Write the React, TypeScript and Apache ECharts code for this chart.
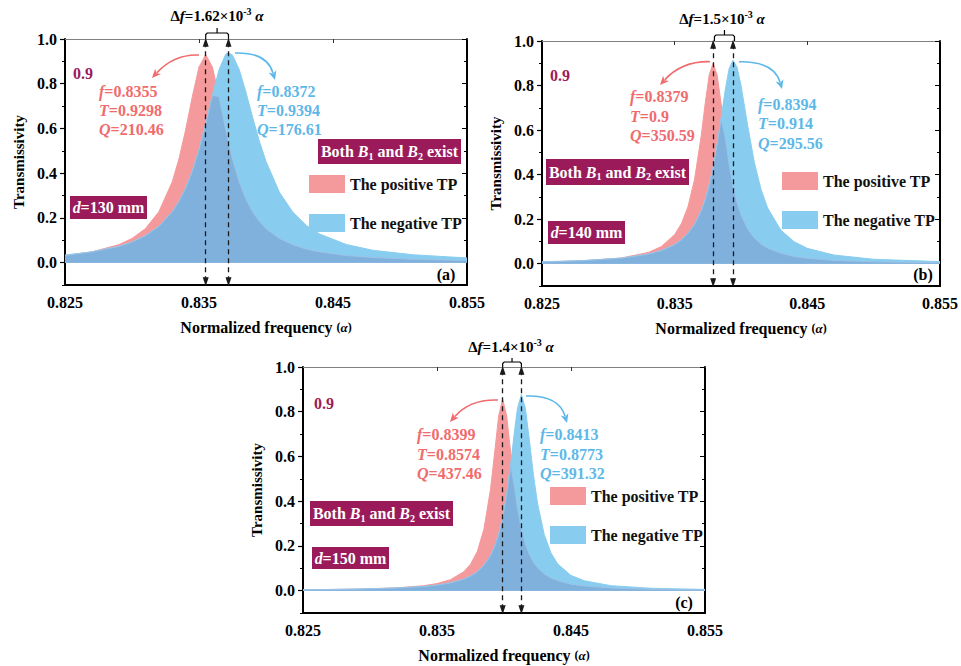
import React, { useEffect, useRef } from "react";
import * as echarts from "echarts";

// ---------------- data ----------------
const xTicks = [0.825, 0.835, 0.845, 0.855];
const yTicks = [0, 0.2, 0.4, 0.6, 0.8, 1.0];

// panel (a) d = 130 mm
const freqA = [0.825, 0.827, 0.829, 0.83, 0.831, 0.832, 0.833, 0.8335, 0.834, 0.8345, 0.835, 0.8355, 0.836, 0.8365, 0.837, 0.8372, 0.8375, 0.838, 0.8385, 0.839, 0.8395, 0.84, 0.841, 0.842, 0.843, 0.844, 0.846, 0.848, 0.851, 0.855];
const posA = [0.032, 0.048, 0.08, 0.108, 0.152, 0.227, 0.361, 0.463, 0.593, 0.742, 0.875, 0.93, 0.875, 0.742, 0.593, 0.538, 0.463, 0.361, 0.284, 0.227, 0.185, 0.152, 0.108, 0.08, 0.061, 0.048, 0.032, 0.023, 0.015, 0.0096];
const negA = [0.034, 0.048, 0.072, 0.092, 0.12, 0.162, 0.227, 0.273, 0.333, 0.409, 0.505, 0.62, 0.748, 0.864, 0.933, 0.939, 0.928, 0.864, 0.763, 0.65, 0.544, 0.453, 0.315, 0.226, 0.167, 0.128, 0.081, 0.055, 0.035, 0.021];

// panel (b) d = 140 mm
const freqB = [0.825, 0.828, 0.831, 0.833, 0.834, 0.835, 0.8355, 0.836, 0.8365, 0.837, 0.8373, 0.8376, 0.8379, 0.8382, 0.8385, 0.8388, 0.8391, 0.8394, 0.8397, 0.84, 0.8405, 0.841, 0.8415, 0.842, 0.843, 0.844, 0.845, 0.847, 0.85, 0.855];
const posB = [0.0077, 0.0129, 0.026, 0.0505, 0.077, 0.131, 0.179, 0.255, 0.379, 0.574, 0.719, 0.847, 0.9, 0.847, 0.719, 0.574, 0.448, 0.349, 0.275, 0.22, 0.157, 0.116, 0.089, 0.0705, 0.047, 0.033, 0.025, 0.015, 0.0087, 0.0044];
const negB = [0.0088, 0.014, 0.025, 0.043, 0.059, 0.086, 0.107, 0.136, 0.177, 0.237, 0.287, 0.351, 0.432, 0.533, 0.652, 0.776, 0.875, 0.914, 0.883, 0.801, 0.621, 0.457, 0.336, 0.251, 0.151, 0.099, 0.069, 0.039, 0.02, 0.0095];

// panel (c) d = 150 mm
const freqC = [0.825, 0.829, 0.832, 0.834, 0.835, 0.836, 0.837, 0.8375, 0.838, 0.8385, 0.839, 0.8393, 0.8396, 0.8399, 0.8402, 0.8405, 0.8408, 0.841, 0.8413, 0.8416, 0.8419, 0.8422, 0.8425, 0.843, 0.8435, 0.844, 0.845, 0.846, 0.848, 0.851, 0.855];
const posC = [0.0035, 0.0066, 0.0125, 0.0221, 0.0317, 0.049, 0.0847, 0.118, 0.174, 0.274, 0.456, 0.616, 0.781, 0.857, 0.781, 0.616, 0.456, 0.371, 0.274, 0.207, 0.161, 0.127, 0.103, 0.075, 0.057, 0.045, 0.029, 0.021, 0.012, 0.0064, 0.0035];
const negC = [0.0038, 0.0067, 0.0116, 0.0186, 0.0248, 0.0347, 0.0516, 0.065, 0.084, 0.113, 0.157, 0.197, 0.251, 0.325, 0.429, 0.565, 0.721, 0.814, 0.877, 0.814, 0.669, 0.516, 0.391, 0.251, 0.169, 0.12, 0.068, 0.044, 0.022, 0.0106, 0.0054];

const peakPosF = [0.8355, 0.8379, 0.8399];
const peakNegF = [0.8372, 0.8394, 0.8413];
const peakPosT = ["0.9298", "0.9", "0.8574"];
const peakNegT = ["0.9394", "0.914", "0.8773"];
const peakPosQ = ["210.46", "350.59", "437.46"];
const peakNegQ = ["176.61", "295.56", "391.32"];
const deltaF = ["1.62", "1.5", "1.4"];
const thickness = ["130", "140", "150"];
const panelTags = ["(a)", "(b)", "(c)"];
const seriesNames = ["The positive TP", "The negative TP"];

const panels = [
  { freq: freqA, pos: posA, neg: negA },
  { freq: freqB, pos: posB, neg: negB },
  { freq: freqC, pos: posC, neg: negC },
];

// ---------------- layout / style ----------------
const FONT = '"Liberation Serif", "Times New Roman", serif';
const RED_FILL = "#f59a9c";
const BLUE_FILL = "#88cdef";
const OVER_FILL = "#80b1dd";
const RED_TXT = "#f06b6d";
const BLUE_TXT = "#5db8e8";
const PURPLE = "#9b1b5a";
const X_MIN = 0.825, X_MAX = 0.855, Y_MIN = -0.1, Y_MAX = 1.0;

const grids = [
  { left: 65, top: 39, width: 402, height: 246 },
  { left: 542, top: 41, width: 401, height: 245 },
  { left: 303, top: 367, width: 402, height: 246 },
];

const layouts = [
  { delta: [217, 16], bracket: [33, 39, 28], nine: [73, 73], red: [99, 82], blue: [257, 82], lh: 19,
    both: [318, 139, 143, 25], d: [70, 196, 77, 23], tag: [446, 274],
    redArrow: [[199, 55], [174, 54], [152, 78]], blueArrow: [[235, 53], [267, 52], [275, 80]], legend: [309, 175] },
  { delta: [722, 19], bracket: [35, 41, 30], nine: [550, 75], red: [630, 87], blue: [758, 94.5], lh: 19.5,
    both: [546, 159, 143, 26], d: [548, 221, 77, 23], tag: [923, 274],
    redArrow: [[710, 61.7], [682, 61], [660, 85]], blueArrow: [[739, 61.7], [774, 61], [782, 89]], legend: [782, 172] },
  { delta: [511, 347], bracket: [362, 367, 358], nine: [314, 403], red: [417, 425], blue: [540, 425], lh: 19.5,
    both: [310, 501, 143, 25], d: [312, 547, 77, 22], tag: [684, 602],
    redArrow: [[498, 400], [470, 399], [450, 422]], blueArrow: [[526, 396], [559, 395], [567, 423]], legend: [550, 487] },
];

function toPx(gi: number, f: number, t: number) {
  const g = grids[gi];
  return [g.left + ((f - X_MIN) / (X_MAX - X_MIN)) * g.width, g.top + ((Y_MAX - t) / (Y_MAX - Y_MIN)) * g.height];
}

const tok = (size: number, color: string, italic = false, extra: any = {}) => ({
  fontFamily: FONT, fontSize: size, fontWeight: "bold", fontStyle: italic ? "italic" : "normal",
  fill: color, color, ...extra,
});

function curvedArrow(pts: number[][], color: string) {
  const [s, c, e] = pts;
  const dx = e[0] - c[0], dy = e[1] - c[1];
  const len = Math.hypot(dx, dy) || 1;
  const ux = dx / len, uy = dy / len;
  const head = 9, half = 4;
  const bx = e[0] - ux * head, by = e[1] - uy * head;
  return [
    {
      type: "bezierCurve", silent: true,
      shape: { x1: s[0], y1: s[1], cpx1: c[0], cpy1: c[1], x2: bx + ux * 2, y2: by + uy * 2 },
      style: { stroke: color, lineWidth: 1.6, fill: null },
    },
    {
      type: "polygon", silent: true,
      shape: { points: [[e[0], e[1]], [bx - uy * half, by + ux * half], [bx + ux * 2.5, by + uy * 2.5], [bx + uy * half, by - ux * half]] },
      style: { fill: color },
    },
  ];
}

function buildOption() {
  const xAxis: any[] = [];
  const yAxis: any[] = [];
  const series: any[] = [];
  const legend: any[] = [];
  const graphic: any[] = [];
  const labelFont = { fontFamily: FONT, fontWeight: "bold", fontSize: 16, color: "#000" };

  grids.forEach((g, p) => {
    xAxis.push({
      gridIndex: p, type: "value", min: X_MIN, max: X_MAX, position: "bottom",
      axisLine: { show: true, onZero: false, lineStyle: { color: "#000", width: 2 } },
      axisTick: { show: false },
      axisLabel: { ...labelFont, margin: 9, customValues: xTicks, formatter: (v: number) => v.toFixed(3) },
      splitLine: { show: false },
      name: "Normalized frequency {s|(}{a|α}{s|)}", nameLocation: "middle", nameGap: 34,
      nameTextStyle: {
        ...labelFont, fontSize: 16,
        rich: { s: { ...labelFont, fontSize: 12 }, a: { ...labelFont, fontSize: 13, fontStyle: "italic" } },
      },
    });
    xAxis.push({
      gridIndex: p, type: "value", min: X_MIN, max: X_MAX, position: "top",
      axisLine: { show: true, onZero: false, lineStyle: { color: "#808080", width: 1 } },
      axisTick: { show: true, inside: true, length: 4, customValues: [0.835, 0.845], lineStyle: { color: "#333" } },
      axisLabel: { show: false }, splitLine: { show: false },
    });
    yAxis.push({
      gridIndex: p, type: "value", min: Y_MIN, max: Y_MAX, position: "left",
      axisLine: { show: true, onZero: false, lineStyle: { color: "#000", width: 2 } },
      axisTick: { show: true, length: 5, customValues: yTicks, lineStyle: { color: "#000", width: 1.2 } },
      axisLabel: { ...labelFont, margin: 8, customValues: yTicks, formatter: (v: number) => v.toFixed(1) },
      splitLine: { show: false },
      name: "Transmissivity", nameLocation: "middle", nameGap: 39, nameRotate: 90,
      nameTextStyle: { ...labelFont, fontSize: 15 },
    });
    yAxis.push({
      gridIndex: p, type: "value", min: Y_MIN, max: Y_MAX, interval: 0.1, position: "left",
      axisLine: { show: false }, axisTick: { show: true, length: 3, lineStyle: { color: "#000" } },
      axisLabel: { show: false }, splitLine: { show: false },
    });
    yAxis.push({
      gridIndex: p, type: "value", min: Y_MIN, max: Y_MAX, position: "right",
      axisLine: { show: true, onZero: false, lineStyle: { color: "#000", width: 2 } },
      axisTick: { show: true, inside: true, length: 5, customValues: yTicks, lineStyle: { color: "#000" } },
      axisLabel: { show: false }, splitLine: { show: false },
    });
    yAxis.push({
      gridIndex: p, type: "value", min: Y_MIN, max: Y_MAX, interval: 0.1, position: "right",
      axisLine: { show: false }, axisTick: { show: true, inside: true, length: 3, lineStyle: { color: "#000" } },
      axisLabel: { show: false }, splitLine: { show: false },
    });

    const P = panels[p];
    const L = layouts[p];
    const common = {
      type: "line", xAxisIndex: p * 2, yAxisIndex: p * 4, showSymbol: false, symbol: "none",
      animation: false, clip: true, silent: true,
    };
    series.push({
      ...common, name: seriesNames[0], z: 2,
      data: P.freq.map((f, i) => [f, P.pos[i]]),
      lineStyle: { color: RED_FILL, width: 1 }, itemStyle: { color: RED_FILL },
      areaStyle: { color: RED_FILL, opacity: 1 },
    });
    series.push({
      ...common, name: seriesNames[1], z: 3,
      data: P.freq.map((f, i) => [f, P.neg[i]]),
      lineStyle: { color: BLUE_FILL, width: 1 }, itemStyle: { color: BLUE_FILL },
      areaStyle: { color: BLUE_FILL, opacity: 1 },
    });

    const dashStyle = { type: [5, 4], color: "#1a1a1a", width: 1.3 };
    const mlData: any[] = [];
    [peakPosF[p], peakNegF[p]].forEach((f) => {
      mlData.push([
        { coord: [f, 0.985], symbol: "triangle", symbolSize: [6, 9], lineStyle: dashStyle },
        { coord: [f, -0.085], symbol: "triangle", symbolSize: [6, 9], lineStyle: dashStyle },
      ]);
    });

    series.push({
      ...common, name: "overlap", z: 4,
      data: P.freq.map((f, i) => [f, Math.min(P.pos[i], P.neg[i])]),
      lineStyle: { color: "#9cc3e6", width: 1 }, itemStyle: { color: OVER_FILL },
      areaStyle: { color: OVER_FILL, opacity: 1 },
      markLine: { silent: true, animation: false, label: { show: false }, emphasis: { disabled: true }, data: mlData },
    });

    legend.push({
      left: L.legend[0], top: L.legend[1], orient: "vertical", icon: "rect", padding: 0,
      itemWidth: 36, itemHeight: 18, itemGap: 21, selectedMode: false,
      data: seriesNames, textStyle: { ...labelFont, fontSize: 16, color: "#111" },
    });

    // ---- annotations ----
    graphic.push({
      type: "text", x: L.delta[0], y: L.delta[1], silent: true,
      style: {
        text: `{n|Δ}{i|f}{n|=${deltaF[p]}×10}{p|-3}{n| }{i|α}`,
        textAlign: "center", textVerticalAlign: "middle",
        rich: { n: tok(15, "#000"), i: tok(15, "#000", true), p: tok(10, "#000", false, { padding: [0, 0, 9, 0] }) },
      },
    });
    const x1 = toPx(p, peakPosF[p], 1)[0];
    const x2 = toPx(p, peakNegF[p], 1)[0];
    const [bt, bb, bs] = L.bracket;
    graphic.push({
      type: "polyline", silent: true,
      shape: { points: [[x1, bb], [x1, bt + 1.5], [x1 + 1.5, bt], [x2 - 1.5, bt], [x2, bt + 1.5], [x2, bb]] },
      style: { stroke: "#000", lineWidth: 1.2, fill: null },
    });
    graphic.push({
      type: "line", silent: true,
      shape: { x1: (x1 + x2) / 2, y1: bt, x2: (x1 + x2) / 2, y2: bs },
      style: { stroke: "#000", lineWidth: 1.2 },
    });
    graphic.push(...curvedArrow(L.redArrow, RED_TXT));
    graphic.push(...curvedArrow(L.blueArrow, BLUE_TXT));
    graphic.push({
      type: "text", x: L.nine[0], y: L.nine[1], silent: true,
      style: { text: "0.9", ...tok(16, PURPLE), textAlign: "left", textVerticalAlign: "middle" },
    });
    const fTQ = (color: string, f: string, t: string, q: string) => ({
      text: `{i|f}{n|=${f}}\n{i|T}{n|=${t}}\n{i|Q}{n|=${q}}`,
      textAlign: "left", textVerticalAlign: "top",
      rich: { i: tok(16, color, true, { lineHeight: L.lh }), n: tok(16, color, false, { lineHeight: L.lh }) },
    });
    graphic.push({ type: "text", x: L.red[0], y: L.red[1], silent: true, style: fTQ(RED_TXT, String(peakPosF[p]), peakPosT[p], peakPosQ[p]) });
    graphic.push({ type: "text", x: L.blue[0], y: L.blue[1], silent: true, style: fTQ(BLUE_TXT, String(peakNegF[p]), peakNegT[p], peakNegQ[p]) });

    const [bx, by, bw, bh] = L.both;
    graphic.push({ type: "rect", silent: true, shape: { x: bx, y: by, width: bw, height: bh }, style: { fill: PURPLE } });
    graphic.push({
      type: "text", x: bx + bw / 2, y: by + bh / 2, silent: true,
      style: {
        text: "{n|Both }{i|B}{s|1}{n| and }{i|B}{s|2}{n| exist}",
        textAlign: "center", textVerticalAlign: "middle",
        rich: { n: tok(16, "#fff"), i: tok(16, "#fff", true), s: tok(10, "#fff", false, { padding: [9, 0, 0, 0] }) },
      },
    });
    const [dx, dy, dw, dh] = L.d;
    graphic.push({ type: "rect", silent: true, shape: { x: dx, y: dy, width: dw, height: dh }, style: { fill: PURPLE } });
    graphic.push({
      type: "text", x: dx + dw / 2, y: dy + dh / 2, silent: true,
      style: {
        text: `{i|d}{n|=${thickness[p]} mm}`, textAlign: "center", textVerticalAlign: "middle",
        rich: { n: tok(16, "#fff"), i: tok(16, "#fff", true) },
      },
    });
    graphic.push({
      type: "text", x: L.tag[0], y: L.tag[1], silent: true,
      style: { text: panelTags[p], ...tok(16, "#000"), textAlign: "center", textVerticalAlign: "middle" },
    });
  });

  return {
    animation: false,
    backgroundColor: "#fff",
    grid: grids.map((g) => ({ ...g, containLabel: false })),
    xAxis, yAxis, series, legend, graphic,
  };
}

export default function App() {
  const ref = useRef<HTMLDivElement>(null);
  useEffect(() => {
    if (!ref.current) return;
    const chart = echarts.init(ref.current, undefined, { renderer: "svg" });
    chart.setOption(buildOption() as any);
    return () => chart.dispose();
  }, []);
  return (
    <div
      ref={ref}
      style={{ position: "absolute", left: 0, top: 0, width: 961, height: 666, background: "#fff" }}
    />
  );
}
